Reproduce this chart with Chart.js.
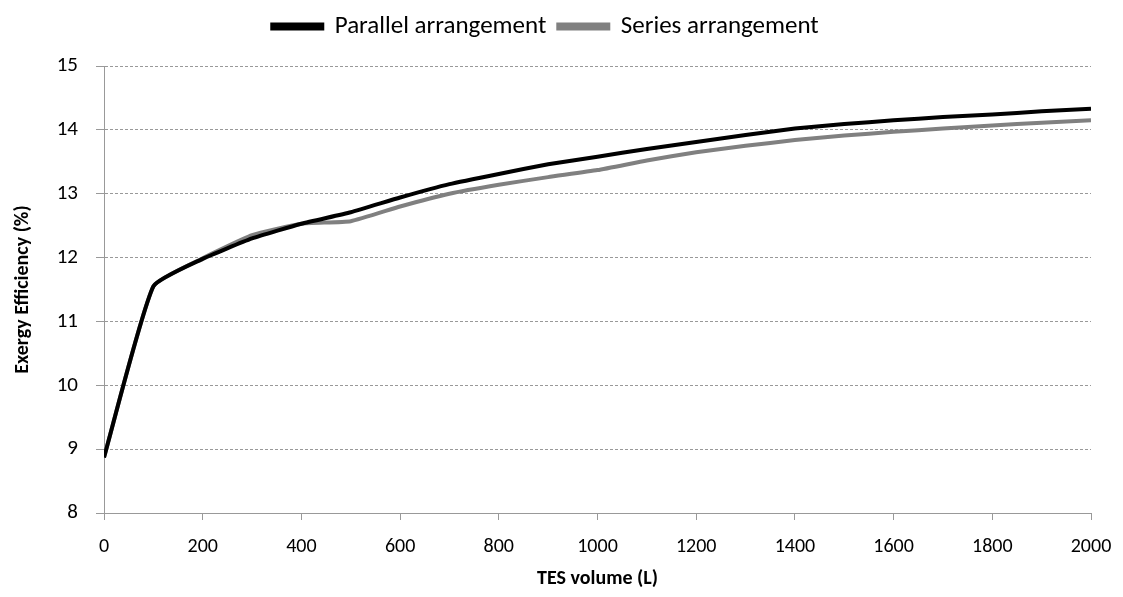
<!DOCTYPE html>
<html>
<head>
<meta charset="utf-8">
<script src="https://cdn.jsdelivr.net/npm/chart.js@4/dist/chart.umd.min.js"></script>
<style>
  html, body { margin: 0; padding: 0; background: #fff; }
  #wrap { width: 1123px; height: 597px; }
</style>
</head>
<body>
<div id="wrap"><canvas id="exergyChart"></canvas></div>
<script>
// TES volume (L)
const volumes = [0, 100, 200, 300, 400, 500, 600, 700, 800, 900, 1000, 1100, 1200, 1300, 1400, 1500, 1600, 1700, 1800, 1900, 2000];
// exergy efficiency (%)
const parallelEff = [8.87, 11.55, 11.98, 12.3, 12.53, 12.71, 12.94, 13.15, 13.31, 13.46, 13.58, 13.7, 13.81, 13.92, 14.02, 14.09, 14.15, 14.2, 14.24, 14.29, 14.33];
const seriesEff = [8.87, 11.55, 11.99, 12.35, 12.53, 12.57, 12.8, 13.0, 13.14, 13.26, 13.37, 13.52, 13.65, 13.75, 13.84, 13.91, 13.97, 14.02, 14.07, 14.11, 14.15];
const xTicks = [0, 200, 400, 600, 800, 1000, 1200, 1400, 1600, 1800, 2000];

const fontFamily = "Carlito, Lato, 'Open Sans', sans-serif";

function toPoints(values) {
  return volumes.map((v, i) => ({ x: v, y: values[i] }));
}

// push the plot area down below the legend
const legendGap = {
  id: "legendGap",
  beforeInit(chart) {
    const fit = chart.legend.fit;
    chart.legend.fit = function () {
      fit.bind(chart.legend)();
      this.height += 17;
    };
  },
};

const ctx = document.getElementById("exergyChart").getContext("2d");
new Chart(ctx, {
  type: "line",
  data: {
    datasets: [
      {
        label: "Parallel arrangement",
        data: toPoints(parallelEff),
        borderColor: "#000000",
        backgroundColor: "#000000",
        borderWidth: 4,
        pointRadius: 0,
        tension: 0.15,
        fill: false,
      },
      {
        label: "Series arrangement",
        data: toPoints(seriesEff),
        borderColor: "#808080",
        backgroundColor: "#808080",
        borderWidth: 4,
        pointRadius: 0,
        tension: 0.15,
        fill: false,
      },
    ],
  },
  plugins: [legendGap],
  options: {
    responsive: true,
    maintainAspectRatio: false,
    animation: false,
    layout: { padding: { top: 2, right: 32, left: 0, bottom: 0 } },
    plugins: {
      legend: {
        position: "top",
        labels: {
          boxWidth: 50,
          boxHeight: 4,
          padding: 12,
          color: "#000",
          font: { family: fontFamily, size: 25 },
        },
      },
      tooltip: { enabled: false },
    },
    scales: {
      x: {
        type: "linear",
        min: 0,
        max: 2000,
        afterBuildTicks: (axis) => {
          axis.ticks = xTicks.map((v) => ({ value: v }));
        },
        afterFit: (axis) => {
          axis.height = 84;
          axis.paddingLeft = 0;
          axis.paddingRight = 0;
        },
        grid: {
          drawOnChartArea: false,
          drawTicks: true,
          tickLength: 7,
          color: "#999",
        },
        border: { color: "#999", width: 1 },
        ticks: {
          color: "#000",
          font: { family: fontFamily, size: 20 },
          padding: 15,
          maxRotation: 0,
          callback: (v) => String(v),
        },
        title: {
          display: true,
          text: "TES volume (L)",
          color: "#000",
          font: { family: fontFamily, size: 20, weight: "bold" },
          padding: { top: 4, bottom: 6 },
        },
      },
      y: {
        min: 8,
        max: 15,
        afterFit: (axis) => {
          axis.width = 104;
        },
        ticks: {
          stepSize: 1,
          color: "#000",
          font: { family: fontFamily, size: 21 },
          padding: 18,
          callback: (v) => String(v),
        },
        grid: {
          color: "#999",
          tickBorderDash: [],
          tickLength: 8,
          tickColor: "#999",
        },
        border: { color: "#999", width: 1, dash: [3, 2] },
        title: {
          display: true,
          text: "Exergy Efficiency (%)",
          color: "#000",
          font: { family: fontFamily, size: 20, weight: "bold" },
          padding: { top: 11, bottom: 4 },
        },
      },
    },
  },
});
</script>
</body>
</html>
